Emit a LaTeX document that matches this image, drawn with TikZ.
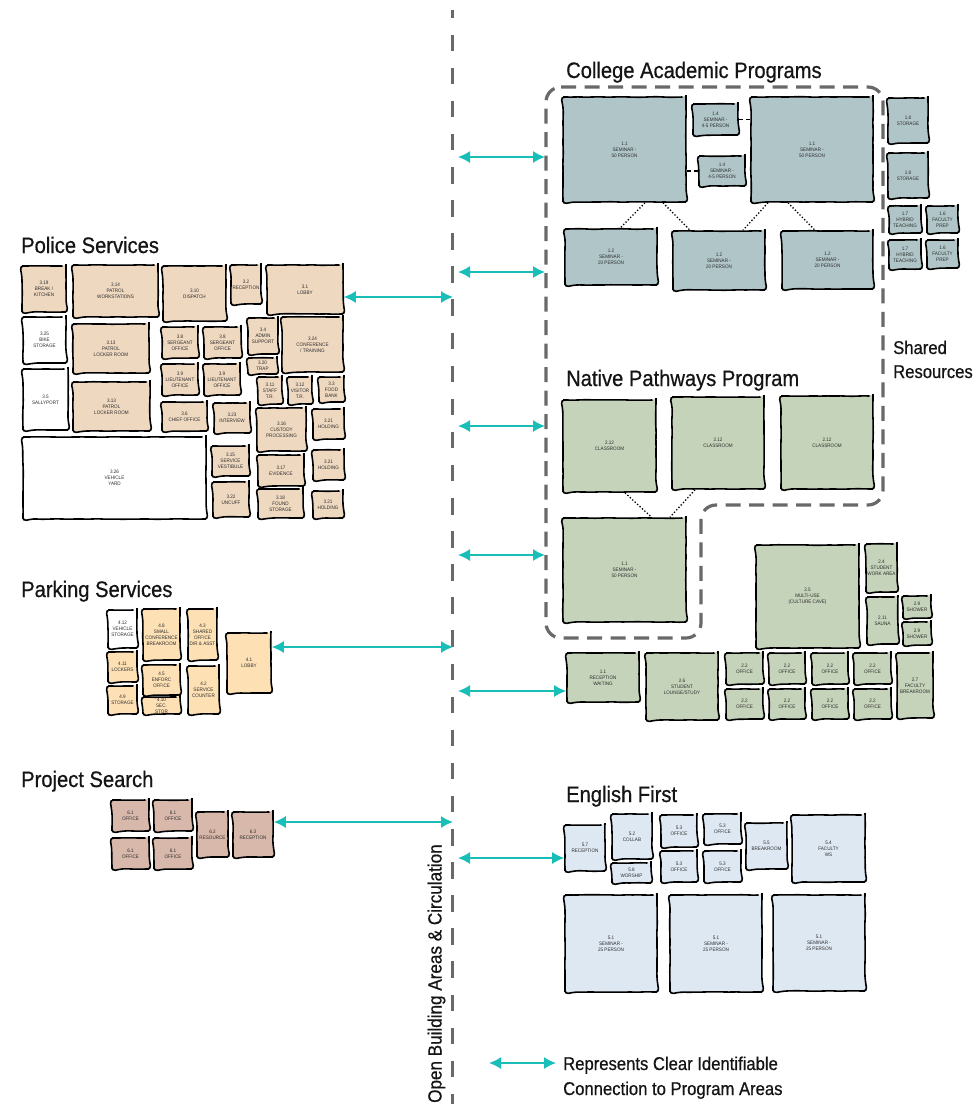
\documentclass[tikz,border=0pt]{standalone}
\usepackage{fontspec}
\setmainfont{Liberation Sans}
\newfontfamily\cond[FakeStretch=0.92]{Liberation Sans}
\newfontfamily\condmed[FakeStretch=0.9,FakeBold=0.6]{Liberation Sans}
\usetikzlibrary{arrows.meta,decorations.pathmorphing}

\definecolor{police}{RGB}{238,216,192}
\definecolor{college}{RGB}{176,197,200}
\definecolor{native}{RGB}{197,211,186}
\definecolor{parking}{RGB}{253,224,180}
\definecolor{project}{RGB}{216,184,170}
\definecolor{english}{RGB}{222,232,243}
\definecolor{linkcyan}{RGB}{25,190,185}
\definecolor{dashgray}{RGB}{105,105,105}
\definecolor{labelgray}{RGB}{45,45,45}
\definecolor{titleblack}{RGB}{20,20,20}

% room: name, x1, y1, x2, y2, fill, label
\newcommand\placeroom[7]{%
  \node[roombox,fill=#6,minimum width={(#4)-(#2)},minimum height={(#5)-(#3)}]
    (#1) at ({((#2)+(#4))/2},{((#3)+(#5))/2}) {#7};}

\begin{document}
\pgfmathsetseed{11}
\begin{tikzpicture}[x=1pt,y=-1pt,
  roombox/.style={draw=black, line width=1.6pt, rounded corners=3.5pt,
    decorate, decoration={random steps, segment length=7pt, amplitude=0.3pt},
    align=center, inner sep=0pt, text=labelgray,
    font=\cond\fontsize{5}{6}\selectfont},
  title/.style={anchor=base west, text=titleblack, inner sep=0pt,
    font=\condmed\fontsize{22.4}{26}\selectfont},
  note/.style={anchor=base west, text=titleblack, inner sep=0pt,
    font=\condmed\fontsize{18.5}{22}\selectfont},
  link/.style={linkcyan, line width=1.5pt,
    arrows={Latex[length=12pt,width=12pt]-Latex[length=12pt,width=12pt]}},
  pairline/.style={black, line width=1.3pt, dotted},
  stubline/.style={black, line width=1.3pt, dash pattern=on 4pt off 3pt},
  groupline/.style={dashgray, line width=3.2pt, dash pattern=on 15pt off 8.5pt,
    rounded corners=15pt},
  circline/.style={dashgray, line width=3.7pt, dash pattern=on 16.5pt off 16.6pt,
    dash phase=8.5pt}]

\useasboundingbox (0,0) rectangle (976,1104);
\fill[white] (0,0) rectangle (976,1104);

% circulation spine
\draw[circline] (452.5,10) -- (452.5,1104);
\node[rotate=90, anchor=base west, inner sep=0pt, text=titleblack,
  font=\condmed\fontsize{19}{22}\selectfont] (circ) at (441.5,1103)
  {Open Building Areas \& Circulation};

% shared program boundary
\draw[groupline] (546,87) -- (883,87) -- (883,505) -- (701,505)
  -- (701,638) -- (546,638) -- cycle;

% ---------- titles ----------
\node[title] (tPolice) at (21,253) {Police Services};
\node[title] (tParking) at (21,597) {Parking Services};
\node[title] (tProject) at (21,787) {Project Search};
\node[title] (tCollege) at (566,78) {College Academic Programs};
\node[title] (tNative) at (566,386) {Native Pathways Program};
\node[title] (tEnglish) at (566,802) {English First};
\node[note] (tShared1) at (893,354) {Shared};
\node[note] (tShared2) at (893,378) {Resources};

% ---------- Police Services ----------
\placeroom{p319}{22}{266}{66}{312}{police}{3.19\\BREAK /\\KITCHEN}
\placeroom{p314}{73}{265}{158}{317}{police}{3.14\\PATROL\\WORKSTATIONS}
\placeroom{p310}{163}{266}{226}{321}{police}{3.10\\DISPATCH}
\placeroom{p32}{231}{265}{261}{304}{police}{3.2\\RECEPTION}
\placeroom{p31}{267}{265}{343}{314}{police}{3.1\\LOBBY}
\placeroom{p325}{23}{317}{66}{363}{white}{3.25\\BIKE\\STORAGE}
\placeroom{p313a}{73}{324}{149}{373}{police}{3.13\\PATROL\\LOCKER ROOM}
\placeroom{p38a}{162}{327}{198}{358}{police}{3.8\\SERGEANT\\OFFICE}
\placeroom{p38b}{204}{327}{241}{358}{police}{3.8\\SERGEANT\\OFFICE}
\placeroom{p34}{248}{318}{278}{354}{police}{3.4\\ADMIN\\SUPPORT}
\placeroom{p324}{282}{317}{343}{372}{police}{3.24\\CONFERENCE\\/ TRAINING}
\placeroom{p320}{248}{358}{277}{374}{police}{3.20\\TRAP}
\placeroom{p35}{23}{369}{68}{430}{white}{3.5\\SALLYPORT}
\placeroom{p313b}{73}{382}{150}{431}{police}{3.13\\PATROL\\LOCKER ROOM}
\placeroom{p39a}{162}{364}{198}{395}{police}{3.9\\LIEUTENANT\\OFFICE}
\placeroom{p39b}{204}{364}{240}{395}{police}{3.9\\LIEUTENANT\\OFFICE}
\placeroom{p311}{258}{377}{282}{404}{police}{3.11\\STAFF\\T.R.}
\placeroom{p312}{288}{377}{312}{404}{police}{3.12\\VISITOR\\T.R.}
\placeroom{p33}{319}{377}{344}{402}{police}{3.3\\FOOD\\BANK}
\placeroom{p36}{162}{402}{207}{431}{police}{3.6\\CHIEF OFFICE}
\placeroom{p323}{214}{403}{250}{433}{police}{3.23\\INTERVIEW}
\placeroom{p316}{257}{408}{306}{451}{police}{3.16\\CUSTODY\\PROCESSING}
\placeroom{p321a}{313}{409}{344}{439}{police}{3.21\\HOLDING}
\placeroom{p326}{23}{437}{206}{519}{white}{3.26\\VEHICLE\\YARD}
\placeroom{p315}{212}{446}{249}{476}{police}{3.15\\SERVICE\\VESTIBULE}
\placeroom{p317}{258}{455}{304}{486}{police}{3.17\\EVIDENCE}
\placeroom{p321b}{313}{450}{344}{480}{police}{3.21\\HOLDING}
\placeroom{p322}{213}{482}{249}{517}{police}{3.22\\UNCUFF}
\placeroom{p318}{258}{489}{303}{518}{police}{3.18\\FOUND\\STORAGE}
\placeroom{p321c}{313}{491}{343}{518}{police}{3.21\\HOLDING}

% ---------- Parking Services ----------
\placeroom{k412}{108}{610}{137}{648}{white}{4.12\\VEHICLE\\STORAGE}
\placeroom{k48}{143}{609}{180}{660}{parking}{4.8\\SMALL\\CONFERENCE\\BREAKROOM}
\placeroom{k43}{188}{609}{217}{660}{parking}{4.3\\SHARED\\OFFICE\\DIR \& ASST}
\placeroom{k411}{108}{652}{137}{682}{parking}{4.11\\LOCKERS}
\placeroom{k45}{143}{665}{180}{695}{parking}{4.5\\ENFORC\\OFFICE}
\placeroom{k42}{188}{666}{219}{714}{parking}{4.2\\SERVICE\\COUNTER}
\placeroom{k41}{227}{633}{271}{693}{parking}{4.1\\LOBBY}
\placeroom{k49}{108}{686}{137}{714}{parking}{4.9\\STORAGE}
\placeroom{k410}{143}{697}{180}{714}{parking}{4.10\\SEC.\\STOR}

% ---------- Project Search ----------
\placeroom{j61a}{112}{800}{149}{831}{project}{6.1\\OFFICE}
\placeroom{j61b}{154}{800}{192}{831}{project}{6.1\\OFFICE}
\placeroom{j61c}{112}{838}{149}{869}{project}{6.1\\OFFICE}
\placeroom{j61d}{154}{838}{192}{869}{project}{6.1\\OFFICE}
\placeroom{j62}{197}{812}{228}{857}{project}{6.2\\RESOURCE}
\placeroom{j63}{233}{812}{273}{857}{project}{6.3\\RECEPTION}

% ---------- College Academic Programs ----------
\placeroom{c11a}{563}{97}{686}{202}{college}{1.1\\SEMINAR -\\50 PERSON}
\placeroom{c14a}{693}{104}{738}{135}{college}{1.4\\SEMINAR -\\4-5 PERSON}
\placeroom{c11b}{751}{97}{873}{202}{college}{1.1\\SEMINAR -\\50 PERSON}
\placeroom{c14b}{699}{156}{745}{186}{college}{1.4\\SEMINAR -\\4-5 PERSON}
\placeroom{c12a}{565}{229}{657}{285}{college}{1.2\\SEMINAR -\\20 PERSON}
\placeroom{c12b}{673}{231}{765}{290}{college}{1.2\\SEMINAR -\\20 PERSON}
\placeroom{c12c}{782}{231}{873}{289}{college}{1.2\\SEMINAR -\\20 PERSON}

\draw[stubline] (c14a.east) -- (c14a.east -| c11b.west);
\draw[stubline] (c14b.west -| c11a.east) -- (c14b.west);
\draw[pairline] ([xshift=20.5pt]c11a.south) -- ([xshift=9pt]c12a.north);
\draw[pairline] ([xshift=38.5pt]c11a.south) -- ([xshift=-29pt]c12b.north);
\draw[pairline] ([xshift=-44pt]c11b.south) -- ([xshift=24pt]c12b.north);
\draw[pairline] ([xshift=-24pt]c11b.south) -- ([xshift=-12.5pt]c12c.north);

% shared resources
\placeroom{s18a}{888}{98}{928}{143}{college}{1.8\\STORAGE}
\placeroom{s18b}{888}{153}{928}{198}{college}{1.8\\STORAGE}
\placeroom{s17a}{889}{206}{921}{233}{college}{1.7\\HYBRID\\TEACHING}
\placeroom{s16a}{927}{206}{958}{233}{college}{1.6\\FACULTY\\PREP}
\placeroom{s17b}{889}{240}{921}{269}{college}{1.7\\HYBRID\\TEACHING}
\placeroom{s16b}{927}{240}{958}{268}{college}{1.6\\FACULTY\\PREP}

% ---------- Native Pathways Program ----------
\placeroom{n212a}{563}{400}{656}{492}{native}{2.12\\CLASSROOM}
\placeroom{n212b}{672}{397}{764}{489}{native}{2.12\\CLASSROOM}
\placeroom{n212c}{781}{396}{873}{489}{native}{2.12\\CLASSROOM}
\placeroom{n11}{563}{518}{686}{622}{native}{1.1\\SEMINAR -\\50 PERSON}
\draw[pairline] ([xshift=15.5pt]n212a.south) -- ([xshift=27pt]n11.north);
\draw[pairline] ([xshift=-23pt]n212b.south) -- ([xshift=45.5pt]n11.north);

\placeroom{n25}{756}{545}{859}{648}{native}{2.5\\MULTI-USE\\(CULTURE CAVE)}
\placeroom{n24}{866}{544}{897}{592}{native}{2.4\\STUDENT\\WORK AREA}
\placeroom{n211}{867}{597}{898}{644}{native}{2.11\\SAUNA}
\placeroom{n29a}{903}{596}{931}{618}{native}{2.9\\SHOWER}
\placeroom{n29b}{903}{622}{931}{645}{native}{2.9\\SHOWER}
\placeroom{n11r}{567}{653}{639}{702}{native}{1.1\\RECEPTION\\WAITING}
\placeroom{n26}{646}{653}{718}{720}{native}{2.6\\STUDENT\\LOUNGE/STUDY}
\placeroom{n22a}{726}{653}{763}{684}{native}{2.2\\OFFICE}
\placeroom{n22b}{769}{653}{805}{684}{native}{2.2\\OFFICE}
\placeroom{n22c}{812}{653}{848}{684}{native}{2.2\\OFFICE}
\placeroom{n22d}{854}{653}{891}{684}{native}{2.2\\OFFICE}
\placeroom{n22e}{726}{689}{763}{719}{native}{2.2\\OFFICE}
\placeroom{n22f}{769}{689}{805}{719}{native}{2.2\\OFFICE}
\placeroom{n22g}{812}{689}{848}{719}{native}{2.2\\OFFICE}
\placeroom{n22h}{854}{689}{891}{719}{native}{2.2\\OFFICE}
\placeroom{n27}{897}{653}{933}{718}{native}{2.7\\FACULTY\\BREAKROOM}

% ---------- English First ----------
\placeroom{e57}{565}{825}{605}{871}{english}{5.7\\RECEPTION}
\placeroom{e52}{612}{814}{652}{859}{english}{5.2\\COLLAB}
\placeroom{e58}{612}{863}{651}{883}{english}{5.8\\WORSHIP}
\placeroom{e53a}{661}{815}{697}{847}{english}{5.3\\OFFICE}
\placeroom{e53b}{704}{814}{741}{844}{english}{5.3\\OFFICE}
\placeroom{e53c}{661}{851}{697}{882}{english}{5.3\\OFFICE}
\placeroom{e53d}{704}{851}{741}{882}{english}{5.3\\OFFICE}
\placeroom{e55}{746}{823}{787}{869}{english}{5.5\\BREAKROOM}
\placeroom{e54}{792}{815}{865}{882}{english}{5.4\\FACULTY\\WS}
\placeroom{e51a}{565}{895}{657}{992}{english}{5.1\\SEMINAR -\\25 PERSON}
\placeroom{e51b}{670}{895}{762}{992}{english}{5.1\\SEMINAR -\\25 PERSON}
\placeroom{e51c}{773}{895}{865}{991}{english}{5.1\\SEMINAR -\\25 PERSON}

% ---------- connections to circulation ----------
\coordinate (polA) at (453,297);
\coordinate (parkA) at (453,647);
\coordinate (projA) at (453,822);
\draw[link] (p31.east |- polA) -- (polA);
\draw[link] (k41.east |- parkA) -- (parkA);
\draw[link] (j63.east |- projA) -- (projA);

\coordinate (ra1) at (458,157);  \coordinate (rb1) at (545,157);
\coordinate (ra2) at (458,272);  \coordinate (rb2) at (545,272);
\coordinate (ra3) at (458,426);  \coordinate (rb3) at (545,426);
\coordinate (ra4) at (458,555);  \coordinate (rb4) at (545,555);
\coordinate (ra5) at (458,691);
\coordinate (ra6) at (458,858);
\draw[link] (ra1) -- (rb1);
\draw[link] (ra2) -- (rb2);
\draw[link] (ra3) -- (rb3);
\draw[link] (ra4) -- (rb4);
\draw[link] (ra5) -- (n11r.west |- ra5);
\draw[link] (ra6) -- (e57.west |- ra6);

% ---------- legend ----------
\coordinate (lgA) at (489,1063);
\coordinate (lgB) at (556,1063);
\draw[link] (lgA) -- (lgB);
\node[note] (lg1) at (563,1070) {Represents Clear Identifiable};
\node[note] (lg2) at (563,1095) {Connection to Program Areas};

\end{tikzpicture}
\end{document}
